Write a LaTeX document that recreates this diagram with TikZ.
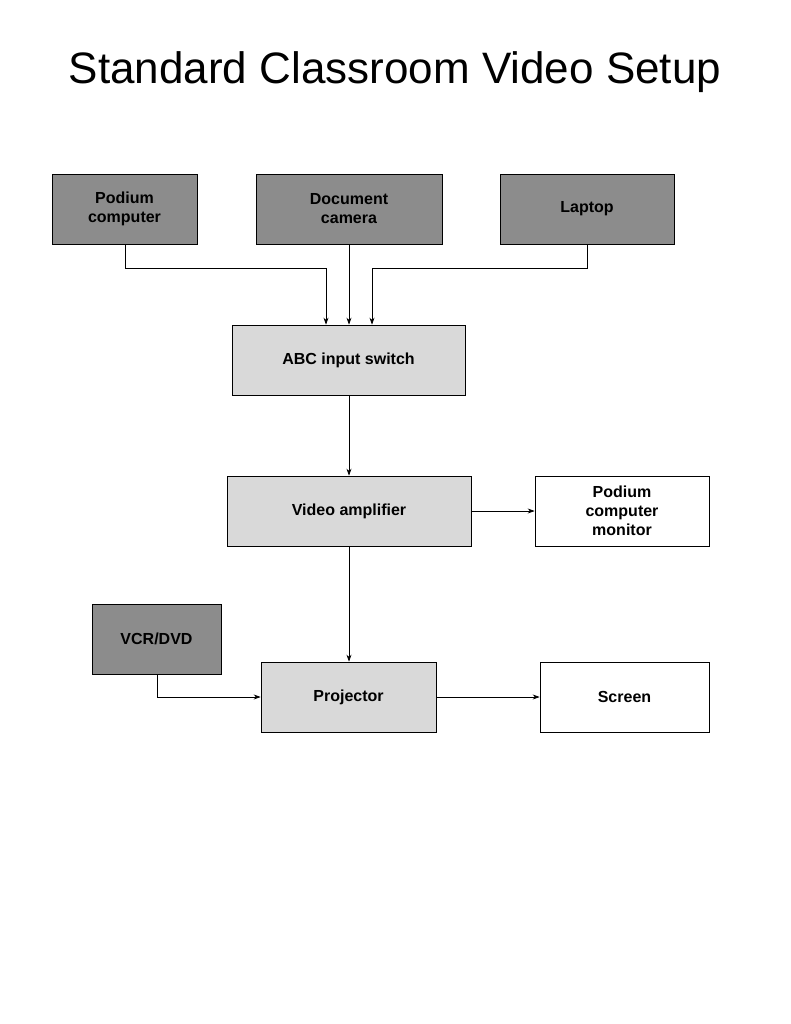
\documentclass[tikz,border=0pt]{standalone}
\usepackage{fontspec}
\setmainfont{Liberation Sans}
\usetikzlibrary{arrows.meta}
\definecolor{dk}{HTML}{8C8C8C}
\definecolor{lt}{HTML}{D9D9D9}
\begin{document}
\begin{tikzpicture}[x=1pt,y=-1pt,
  box/.style={draw=black,line width=0.7pt,font=\bfseries\fontsize{16}{19}\selectfont,align=center,inner sep=0pt},
  dark/.style={box,fill=dk},light/.style={box,fill=lt},white/.style={box,fill=white},
  arr/.style={-{Stealth[length=7pt,width=5pt]},line width=0.7pt}]
\useasboundingbox (0,0) rectangle (791,1024);
\node[font=\fontsize{44}{50}\selectfont] (title) at (395,72) {Standard Classroom Video Setup};
\newcommand\bx[7]{\node[#1,minimum width=#5-#3,minimum height=#6-#4] (#2) at ({(#3+#5)/2},{(#4+#6)/2}) {#7};}
\bx{dark}{pc}{52}{174}{197}{244}{Podium\\computer}
\bx{dark}{doc}{256}{174}{442}{244}{Document\\camera}
\bx{dark}{lap}{500}{174}{674}{244}{Laptop}
\bx{light}{abc}{232}{325}{465}{395}{ABC input switch}
\bx{light}{amp}{227}{476}{471}{546}{Video amplifier}
\bx{white}{mon}{535}{476}{709}{546}{Podium\\computer\\monitor}
\bx{dark}{vcr}{92}{604}{221}{674}{VCR/DVD}
\bx{light}{proj}{261}{662}{436}{732}{Projector}
\bx{white}{scr}{540}{662}{709}{732}{Screen}
\draw[arr] (pc.south -| 125,0) |- (326,268) -- (abc.north -| 326,0);
\draw[arr] (doc.south -| 349,0) -- (abc.north -| 349,0);
\draw[arr] (lap.south -| 587,0) |- (372,268) -- (abc.north -| 372,0);
\draw[arr] (abc.south -| 349,0) -- (amp.north -| 349,0);
\draw[arr] (amp.east |- 0,511) -- (mon.west |- 0,511);
\draw[arr] (amp.south -| 349,0) -- (proj.north -| 349,0);
\draw[arr] (vcr.south -| 157,0) |- (proj.west |- 0,697);
\draw[arr] (proj.east |- 0,697) -- (scr.west |- 0,697);
\end{tikzpicture}
\end{document}
